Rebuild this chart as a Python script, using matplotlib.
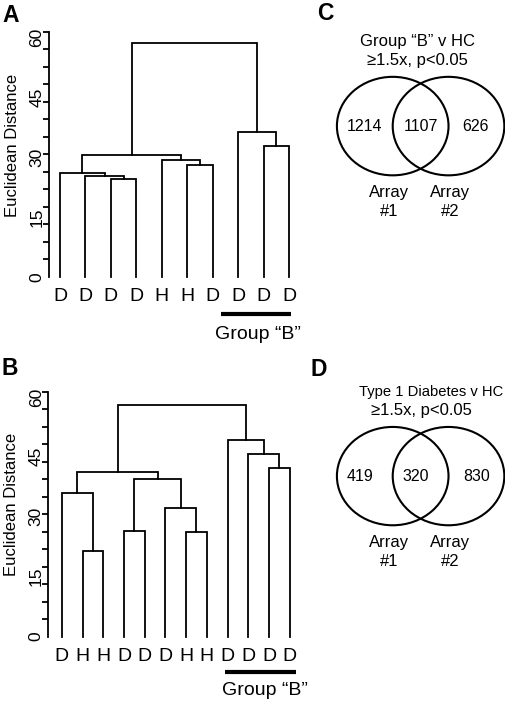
import numpy as np
import matplotlib
matplotlib.use("Agg")
import matplotlib.pyplot as plt
from matplotlib.patches import Ellipse

plt.rcParams['font.family'] = ['Liberation Sans', 'DejaVu Sans']

# Panel A dendrogram: leaves in plotted order, merges as (left, right) node ids
a_leaves = ['D', 'D', 'D', 'D', 'H', 'H', 'D', 'D', 'D', 'D']
a_pairs = [(2, 3), (1, 10), (0, 11), (5, 6), (4, 13), (12, 14), (8, 9), (7, 16), (15, 17)]
a_heights = [24.5, 25.25, 26.1, 28.1, 29.2, 30.4, 32.75, 36.3, 58.4]

# Panel B dendrogram
b_leaves = ['D', 'H', 'H', 'D', 'D', 'D', 'H', 'H', 'D', 'D', 'D', 'D']
b_pairs = [(1, 2), (0, 12), (3, 4), (6, 7), (5, 15), (14, 16), (13, 17),
           (10, 11), (9, 19), (8, 20), (18, 21)]
b_heights = [21.5, 35.9, 26.3, 26.1, 32.2, 39.5, 41.2, 42.3, 45.75, 49.25, 58.0]

y_labels = [0, 15, 30, 45, 60]

# Venn panels
c_counts = ['1214', '1107', '626']
c_title = ['Group \u201cB\u201d v HC', '\u22651.5x, p<0.05']
d_counts = ['419', '320', '830']
d_title = ['Type 1 Diabetes v HC', '\u22651.5x, p<0.05']
array_names = [('Array', '#1'), ('Array', '#2')]

W, H = 506, 704
fig = plt.figure(figsize=(W / 100, H / 100), dpi=100)


def px_axes(x0, y0, x1, y1):
    return fig.add_axes([x0 / W, 1 - y1 / H, (x1 - x0) / W, (y1 - y0) / H])


def draw_dendro(ax, leaves, pairs, heights, xlim, bar_x, bar_y, group_x, group_y):
    n = len(leaves)
    xs = list(range(1, n + 1))
    hs = [0.0] * n
    for (a, b), h in zip(pairs, heights):
        ax.plot([xs[a], xs[a], xs[b], xs[b]], [hs[a], h, h, hs[b]],
                color='black', lw=1.3, clip_on=False, solid_joinstyle='miter')
        xs.append((xs[a] + xs[b]) / 2)
        hs.append(h)
    top = 61.3
    ax.set_xlim(*xlim)
    ax.set_ylim(0, top)
    for s in ['top', 'right', 'bottom']:
        ax.spines[s].set_visible(False)
    ax.spines['left'].set_linewidth(1.3)
    ax.set_yticks(y_labels)
    ax.set_yticklabels([str(v) for v in y_labels], rotation=90, va='center', fontsize=12.5)
    ax.set_yticks(np.linspace(0, top, 15), minor=True)
    ax.tick_params(axis='y', which='major', length=0, pad=3.5)
    ax.tick_params(axis='y', which='minor', length=4.3, width=1.3)
    ax.set_xticks(range(1, n + 1))
    ax.set_xticklabels(leaves, fontsize=14)
    ax.tick_params(axis='x', length=0, pad=8)
    ax.text(-0.147, 33 / top, 'Euclidean Distance', transform=ax.transAxes,
            rotation=90, ha='center', va='center', fontsize=12)
    ax.plot(bar_x, [bar_y, bar_y], color='black', lw=3,
            clip_on=False, solid_capstyle='butt')
    ax.text(group_x, group_y, 'Group \u201cB\u201d', ha='center', va='baseline',
            fontsize=14)


ax_a = px_axes(49, 31.7, 300, 277)
draw_dendro(ax_a, a_leaves, a_pairs, a_heights, (0.5676, 10.43),
            [7.33, 10.07], -9.25, 8.76, -15.6)

ax_b = px_axes(48.5, 391.7, 300, 636.5)
draw_dendro(ax_b, b_leaves, b_pairs, b_heights, (0.351, 12.5),
            [8.90, 12.29], -8.9, 10.79, -14.6)


def draw_venn(ax, counts, title, count_x, title_x, title_size, ylim):
    ax.set_xlim(-1.803, 1.53)
    ax.set_ylim(*ylim)
    ax.axis('off')
    for cx in [-0.5, 0.5]:
        ax.add_patch(Ellipse((cx, 0), 2, 2, fill=False, lw=1.5, ec='black'))
    for x, t in zip(count_x, counts):
        ax.text(x, 0, t, ha='center', va='center', fontsize=11.5)
    ax.text(title_x[0], 1.71, title[0], ha='center', va='center', fontsize=title_size)
    ax.text(title_x[1], 1.34, title[1], ha='center', va='center', fontsize=12)
    for x, (l1, l2) in zip([-0.56, 0.53], array_names):
        ax.text(x, -1.35, l1, ha='center', va='center', fontsize=12)
        ax.text(x, -1.74, l2, ha='center', va='center', fontsize=12)


ax_c = px_axes(320, 0, 506, 230)
draw_venn(ax_c, c_counts, c_title, [-1.0, 0.0, 0.98], [-0.05, -0.05], 12, (-2.11, 2.56))

ax_d = px_axes(320, 350, 506, 600)
draw_venn(ax_d, d_counts, d_title, [-1.08, -0.09, 1.0], [0.19, 0.02], 10.6, (-2.52, 2.565))

for letter, x, y in [('A', 2, 21.7), ('B', 2, 375), ('C', 317, 20), ('D', 311, 376)]:
    fig.text(x / W, 1 - y / H, letter, ha='left', va='baseline', fontsize=16.5,
             fontweight='bold')

fig.savefig('out.png', dpi=100)
